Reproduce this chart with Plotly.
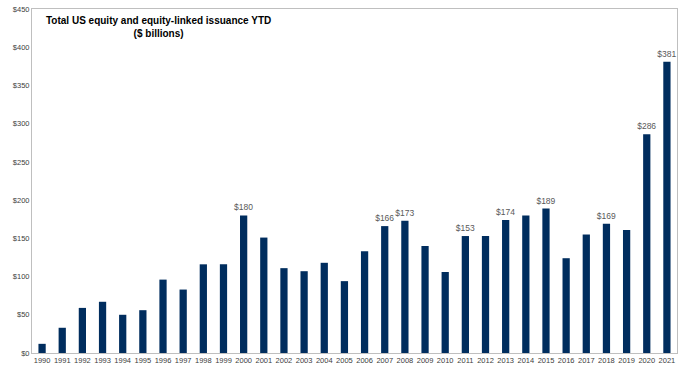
import plotly.graph_objects as go

years = [str(y) for y in range(1990, 2022)]
values = [12, 33, 59, 67, 50, 56, 96, 83, 116, 116, 180, 151, 111, 107, 118, 94,
          133, 166, 173, 140, 106, 153, 153, 174, 180, 189, 124, 155, 169, 161, 286, 381]
labelled_years = ["2000", "2007", "2008", "2011", "2013", "2015", "2018", "2020", "2021"]
labels = [f"${v}" if y in labelled_years else "" for y, v in zip(years, values)]
y_ticks = list(range(0, 451, 50))
y_tick_text = [f"${t}" for t in y_ticks]

fig = go.Figure(go.Bar(
    x=years, y=values, text=labels, textposition="outside", constraintext="none",
    textfont=dict(family="Liberation Sans, Arial", size=8.5, color="#595959"),
    marker=dict(color="#002D5E", line=dict(width=0)),
    cliponaxis=False,
))

fig.update_layout(
    width=684, height=372,
    margin=dict(l=32, r=7, t=9, b=19),
    paper_bgcolor="white", plot_bgcolor="white",
    bargap=0.64,
    showlegend=False,
    font=dict(family="Liberation Sans, Arial", size=8, color="#404040"),
    xaxis=dict(type="category", showgrid=False, showline=True, linecolor="#BFBFBF",
               linewidth=1, mirror=True, ticks="", tickfont=dict(size=7.5), tickangle=0,
               automargin=False),
    yaxis=dict(range=[0, 450], tickvals=y_ticks, ticktext=y_tick_text, showgrid=False,
               showline=True, linecolor="#BFBFBF", linewidth=1, mirror=True,
               ticks="", tickfont=dict(size=7.5), zeroline=False, automargin=False),
    annotations=[dict(
        text="<b>Total US equity and equity-linked issuance YTD<br>($ billions)</b>",
        xref="paper", yref="paper", x=(158 - 32) / 645, y=1 - 4 / 344,
        xanchor="center", yanchor="top", showarrow=False, align="center",
        font=dict(family="Liberation Sans, Arial", size=10, color="black"),
    )],
)

fig.write_html("out.html", config={"displayModeBar": False},
               post_script="document.body.style.margin='0';document.body.style.overflow='hidden';")
